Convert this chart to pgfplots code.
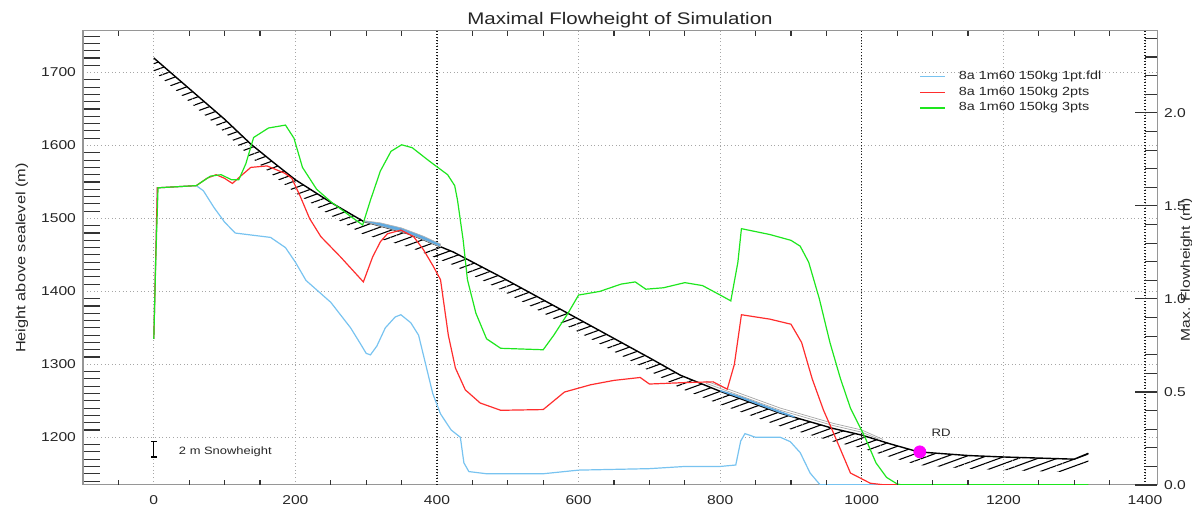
\documentclass[border=0pt]{standalone}
\usepackage{fontspec}
\setmainfont{Liberation Sans}[FakeStretch=1.22]
\usepackage{pgfplots}
\pgfplotsset{compat=1.18}
\usetikzlibrary{patterns.meta}

\definecolor{fblue}{RGB}{120,195,240}
\definecolor{fred}{RGB}{255,45,45}
\definecolor{fgreen}{RGB}{30,230,30}
\definecolor{depo}{RGB}{95,170,225}
\definecolor{axgray}{RGB}{150,150,150}

\tikzset{griddot/.style={gray!70,line width=0.4pt,dash pattern=on 0.4pt off 1.4pt}}
\pgfplotsset{
  frame/.style={at={(0,0)},anchor=south west,scale only axis,width=537pt,height=227pt,
    xmin=-100,xmax=1417},
  tickonly/.style={frame,tick align=inside,
    major tick style={black!80,line width=0.55pt}},
}

\begin{document}
\begin{tikzpicture}[font=\fontsize{6.4}{7}\selectfont]
% main axis: data, labels, grid
\begin{axis}[frame,ymin=1134.6,ymax=1757,
  axis line style={axgray,line width=0.5pt},
  xtick={0,200,...,1400},ytick={1200,1300,...,1700},
  extra x ticks={400,1000,1400},extra x tick labels={},
  extra x tick style={major grid style={black!90,line width=0.55pt,dash pattern=on 0.5pt off 1pt}},
  major tick length=0pt,ytick pos=left,
  grid=major,major grid style={griddot},
  tick label style={black!85,font=\fontsize{6.4}{7}\selectfont},
  xticklabel style={yshift=-1.8pt},
  /pgf/number format/assume math mode=true,/pgf/number format/1000 sep={},
  title={Maximal Flowheight of Simulation},
  title style={font=\fontsize{8.4}{9}\selectfont,black!85,at={(0.5,1)},anchor=base,yshift=-3pt},
  ylabel={Height above sealevel (m)},
  every axis y label/.style={at={(axis description cs:-0.0568,0.5)},anchor=center,rotate=90,
    font=\fontsize{6.7}{7}\selectfont,black!85},
  legend style={at={(rel axis cs:0.779,0.912)},anchor=north west,draw=none,fill=none,
    inner sep=0pt,outer sep=0pt,row sep=2pt,column sep=6.5pt,
    font=\fontsize{5.9}{6}\selectfont,text=black!85,
    nodes={inner sep=0pt,text height=4.4pt,text depth=1.4pt}},
  legend cell align=left,
  legend image code/.code={\draw[#1] (0pt,0pt) -- (12.5pt,0pt);},
]
% legend images
\addlegendimage{fblue,line width=0.65pt,solid}
\addlegendentry{8a 1m60 150kg 1pt.fdl}
\addlegendimage{fred,line width=0.65pt,solid}
\addlegendentry{8a 1m60 150kg 2pts}
\addlegendimage{fgreen,line width=0.65pt,solid}
\addlegendentry{8a 1m60 150kg 3pts}
% hatched band below the terrain
\addplot[draw=none,pattern={Lines[angle=20,distance=3.3pt,line width=0.55pt]},
  pattern color=black,forget plot] coordinates {
(0,1720) (50,1678) (100,1636) (137,1602) (170,1576) (200,1553) (250,1522)
(296,1496) (330,1487) (363,1478) (423,1454) (490,1420) (600,1362) (700,1309)
(744,1285) (800,1263) (885,1233) (960,1212) (1000,1203) (1040,1191) (1080,1180)
(1150,1175) (1200,1173) (1300,1170) (1320,1178)
(1320,1160) (1300,1152) (1200,1155) (1150,1157) (1080,1162) (1040,1173) (1000,1185)
(960,1194) (885,1215) (800,1245) (744,1267) (700,1291) (600,1344) (490,1402)
(423,1436) (363,1460) (330,1469) (296,1478) (250,1504) (200,1535) (170,1558)
(137,1584) (100,1618) (50,1660) (0,1702)};
% terrain line
\addplot[black,line width=0.7pt,forget plot] coordinates {
(0,1720) (50,1678) (100,1636) (137,1602) (170,1576) (200,1553) (250,1522)
(296,1496) (330,1487) (363,1478) (423,1454) (490,1420) (600,1362) (700,1309)
(744,1285) (800,1263) (885,1233) (960,1212) (1000,1203) (1040,1191) (1080,1180)
(1150,1175) (1200,1173) (1300,1170) (1320,1178)};
% deposits
\addplot[fill=depo,draw=gray!60,line width=0.3pt,forget plot] coordinates {
(296,1497) (320,1494) (350,1487) (380,1476) (405,1465) (405,1461) (363,1478) (330,1487) (296,1496)};
\addplot[fill=depo,draw=none,forget plot] coordinates {
(800,1265) (830,1256) (860,1245) (885,1236) (905,1229) (905,1227) (885,1233) (830,1253) (800,1263)};
\addplot[gray!70,line width=0.35pt,forget plot] coordinates {
(780,1274) (800,1267) (885,1237) (960,1216) (1000,1207) (1025,1197)};
\addplot[gray!70,line width=0.35pt,forget plot] coordinates {
(780,1277) (800,1270) (885,1240) (960,1219) (1000,1210) (1030,1197)};
% flow heights
\addplot[fblue,line width=0.6pt,forget plot] coordinates {
(0,1335) (5,1542) (60,1545) (70,1538) (85,1515) (100,1495) (115,1480) (140,1477)
(165,1474) (186,1460) (200,1440) (215,1415) (250,1385) (278,1350) (292,1328)
(300,1315) (306,1313) (315,1325) (327,1350) (341,1365) (349,1368) (363,1357)
(374,1340) (384,1300) (394,1260) (405,1232) (420,1210) (433,1200) (438,1165)
(445,1153) (470,1150) (550,1150) (600,1155) (650,1156) (700,1157) (750,1160)
(800,1160) (822,1162) (829,1195) (835,1205) (850,1200) (885,1200) (899,1194)
(913,1179) (927,1151) (941,1135) (1320,1135)};
\addplot[fred,line width=0.6pt,forget plot] coordinates {
(0,1335) (5,1542) (60,1545) (75,1555) (88,1560) (100,1555) (111,1548) (125,1560)
(137,1570) (160,1572) (185,1562) (195,1555) (207,1530) (220,1500) (236,1475)
(264,1447) (296,1413) (309,1447) (320,1468) (330,1479) (349,1484) (367,1475)
(381,1457) (395,1434) (405,1416) (416,1340) (426,1295) (440,1265) (461,1247)
(490,1237) (550,1238) (580,1262) (617,1272) (650,1278) (687,1282) (700,1273)
(750,1275) (790,1276) (810,1266) (820,1300) (830,1368) (870,1362) (900,1355)
(915,1330) (930,1280) (946,1237) (960,1206) (984,1151) (1012,1137) (1030,1135) (1320,1135)};
\addplot[fgreen,line width=0.6pt,forget plot] coordinates {
(0,1335) (3,1450) (6,1542) (60,1545) (80,1558) (95,1560) (110,1553) (120,1553)
(130,1575) (141,1611) (162,1624) (186,1628) (198,1610) (210,1570) (230,1540)
(250,1523) (275,1505) (295,1491) (306,1525) (320,1565) (335,1592) (350,1601)
(365,1597) (390,1578) (415,1560) (425,1545) (429,1525) (437,1470) (443,1416)
(455,1370) (470,1335) (490,1322) (550,1320) (565,1340) (585,1370) (600,1395)
(630,1400) (660,1410) (680,1413) (695,1403) (720,1405) (750,1412) (775,1408)
(800,1395) (815,1387) (825,1440) (830,1486) (870,1478) (900,1470) (913,1462)
(925,1440) (940,1390) (955,1330) (970,1280) (984,1240) (1005,1199) (1020,1165)
(1035,1145) (1050,1136) (1055,1135) (1320,1135)};
% RD point
\addplot[only marks,mark=*,mark size=3pt,color={rgb,255:red,255;green,0;blue,255},forget plot]
  coordinates {(1082,1180)};
\node[font=\fontsize{5.4}{6}\selectfont,black!85] at (axis cs:1112,1206) {RD};
% snow height scale bar
\addplot[draw=none,mark=none,forget plot,error bars/.cd,y dir=both,y explicit,
  error bar style={draw=black,line width=0.6pt},error mark=|,
  error mark options={draw=black,mark size=1.5pt,line width=0.6pt}]
  coordinates {(0,1183.5) +- (0,10.5)};
\node[anchor=west,inner sep=0pt,font=\fontsize{5.3}{6}\selectfont,black!85] at (axis cs:35,1180) {2 m Snowheight};
\end{axis}
% bottom and top x ticks every 50
\begin{axis}[tickonly,ymin=0,ymax=1,hide y axis,axis line style={draw=none},
  xtick={-50,50,100,150,250,300,350,450,500,550,650,700,750,850,900,950,1050,1100,1150,1250,1300,1350},
  xticklabels={},major tick length=2.5pt]
\end{axis}
% left ticks every 10 m
\begin{axis}[tickonly,ymin=1134.6,ymax=1757,hide x axis,axis y line*=left,
  axis line style={axgray,line width=0.5pt,-},
  ytick={1140,1150,1160,1170,1180,1190,1210,1220,1230,1240,1250,1260,1270,1280,1290,
    1310,1320,1330,1340,1350,1360,1370,1380,1390,1410,1420,1430,1440,1450,1460,1470,1480,1490,
    1510,1520,1530,1540,1550,1560,1570,1580,1590,1610,1620,1630,1640,1650,1660,1670,1680,1690,
    1710,1720,1730,1740,1750},
  yticklabels={},major tick length=8.5pt]
\end{axis}
% right minor ticks
\begin{axis}[tickonly,ymin=0,ymax=2.44,hide x axis,axis y line*=right,
  axis line style={axgray,line width=0.5pt,-},
  ytick={0.1,0.2,0.3,0.4,0.6,0.7,0.8,0.9,1.1,1.2,1.3,1.4,1.6,1.7,1.8,1.9,2.1,2.2,2.3,2.4},
  yticklabels={},major tick length=6pt]
\end{axis}
% right axis: flow height
\begin{axis}[tickonly,ymin=0,ymax=2.44,hide x axis,axis y line*=right,
  axis line style={axgray,line width=0.5pt,-},
  ytick={0,0.5,1.0,1.5,2.0},major tick length=11pt,
  tick label style={black!85,font=\fontsize{6.4}{7}\selectfont},
  /pgf/number format/assume math mode=true,
  yticklabel style={/pgf/number format/.cd,fixed,fixed zerofill,precision=1},
  ylabel={Max. Flowheight (m)},
  every axis y label/.style={at={(axis description cs:1.0275,0.474)},anchor=center,rotate=90,
    font=\fontsize{6.4}{7}\selectfont,black!85}]
\end{axis}
\pgfresetboundingbox
\path[use as bounding box] (-41.5pt,-10.5pt) rectangle (554.5pt,242.5pt);
\end{tikzpicture}
\end{document}
